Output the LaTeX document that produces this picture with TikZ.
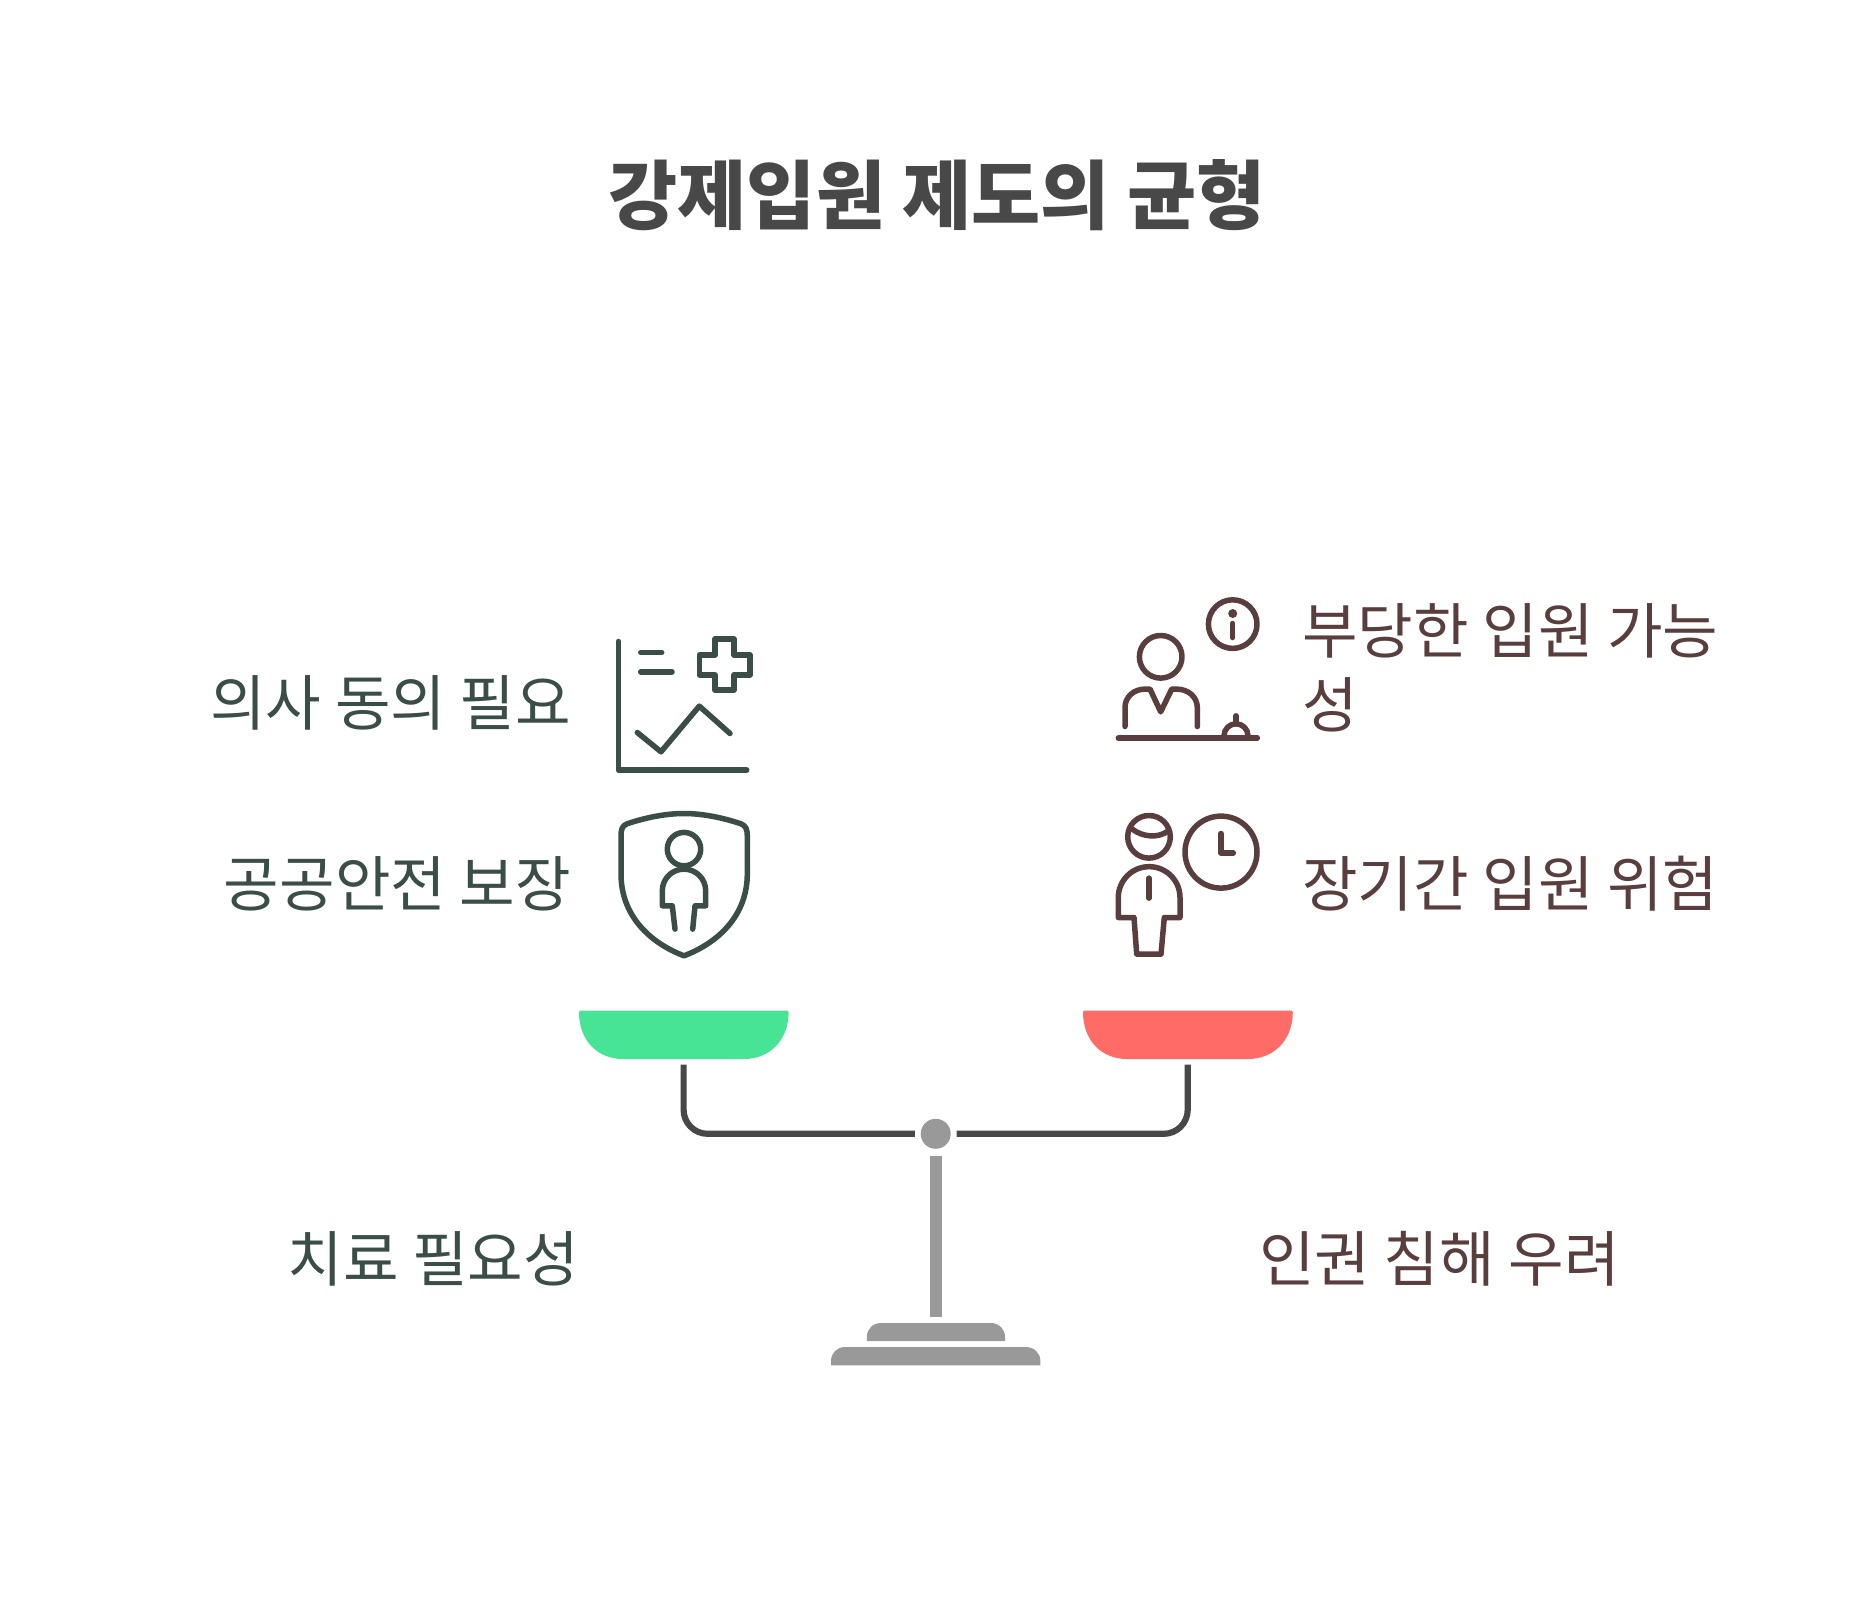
\documentclass[tikz,border=0pt]{standalone}
\usepackage{fontspec}
\usepackage{xcolor}
\setmainfont{Noto Sans CJK KR}
\definecolor{leftink}{HTML}{3A4D46}
\definecolor{rightink}{HTML}{5A3D3D}
\definecolor{titleink}{HTML}{484848}
\definecolor{standgray}{HTML}{999999}
\definecolor{leftpan}{HTML}{47E496}
\definecolor{rightpan}{HTML}{FF6B66}

\begin{document}
\begin{tikzpicture}[x=1pt,y=-1pt,
  lefticon/.style={draw=leftink,line width=5.5pt,line cap=round,line join=round},
  righticon/.style={draw=rightink,line width=5.5pt,line cap=round,line join=round},
  lefttext/.style={text=leftink,font=\fontsize{60.4}{74}\selectfont,anchor=east,inner sep=0pt},
  righttext/.style={text=rightink,font=\fontsize{60.4}{74}\selectfont,anchor=west,inner sep=0pt,align=left},
  beam/.style={draw=titleink,line width=6.2pt}]
\useasboundingbox (0,0) rectangle (1872,1615);

\node(title) at(937,195) [text=titleink,font=\fontsize{75.2}{80}\selectfont\bfseries,inner sep=0pt]{강제입원 제도의 균형};

\node(doctor) at(571,703) [lefttext]{의사 동의 필요};
\node(safety) at(571,883.5) [lefttext]{공공안전 보장};
\node(treat) at(579,1258.5) [lefttext]{치료 필요성};
\node(unjust) at(1302,667.5) [righttext]{부당한 입원 가능\\성};
\node(longstay) at(1302,883.5) [righttext]{장기간 입원 위험};
\node(rights) at(1259,1258.5) [righttext]{인권 침해 우려};

\begin{scope}[yshift=-0.8pt]
% chart icon
\draw[lefticon] (618.3,640.7)--(618.3,769.3)--(746.7,769.3);
\draw[lefticon] (640.7,651.7)--(661.7,651.7);
\draw[lefticon] (640.7,671)--(672,671);
\draw[lefticon] (715,638.3)--(734,638.3)--(734,654)--(750,654)--(750,674)--(734,674)--(734,689.3)--(715,689.3)--(715,674)--(699.3,674)--(699.3,654)--(715,654)--cycle;
\draw[lefticon] (637.3,731.7)--(661,751)--(699.3,705.3)--(730,732.7);

% shield icon
\draw[lefticon] (684,812.7) .. controls (665,812.7) and (645,817) .. (627,823)
  .. controls (622,825) and (621,829) .. (621,835) -- (621,873)
  .. controls (621,915) and (650,942) .. (684,955)
  .. controls (718,942) and (747.3,915) .. (747.3,873) -- (747.3,835)
  .. controls (747.3,829) and (746,825) .. (741,823)
  .. controls (723,817) and (703,812.7) .. (684,812.7) -- cycle;
\draw[lefticon] (684,848.3) circle (16.7pt);
\draw[lefticon] (675,928.3)--(672.3,905)--(662.3,905)--(662.3,890) arc[start angle=180,end angle=0,radius=21.7pt]--(705.7,905)--(695,905)--(692.7,928.3);

% desk icon
\draw[righticon] (1232.7,623.3) circle (24.3pt);
\fill[rightink] (1232.7,612.7) circle (4.5pt);
\draw[righticon] (1232.7,622.7)--(1232.7,636.7);
\draw[righticon] (1160.7,656) circle (21.3pt);
\draw[righticon] (1125,725.7)--(1125,706.7) .. controls (1125,696) and (1134,688.3) .. (1145,688.3)
  --(1150,688.3)--(1160.7,711)--(1171.7,688.3)--(1176.7,688.3)
  .. controls (1188,688.3) and (1197.3,696) .. (1197.3,706.7)--(1197.3,725.7);
\draw[righticon] (1118.3,737.3)--(1257.3,737.3);
\draw[righticon] (1224,735) arc[start angle=180,end angle=0,radius=12pt];
\draw[righticon] (1236,715)--(1236,721.7);

% clock icon
\draw[righticon] (1149,836) circle (21.3pt);
\draw[righticon] (1132.3,828.3) .. controls (1142,836) and (1158,838) .. (1168.3,830);
\draw[righticon] (1221,851.3) circle (36pt);
\draw[righticon] (1221,832.7)--(1221,852.3)--(1233.3,852.3);
\draw[righticon] (1118.3,916.7)--(1118.3,896.7) arc[start angle=180,end angle=0,radius=30.85pt]--(1180,916.7)--(1164.3,916.7)--(1161,953.3)--(1136.7,953.3)--(1134,916.7)--cycle;
\draw[righticon] (1149,877.3)--(1149,897.3);
\end{scope}

% pans
\fill[leftpan] (579,1012) .. controls (579,1041) and (598,1059) .. (623,1059)--(744,1059)
  .. controls (769,1059) and (788.6,1041) .. (788.6,1012) .. controls (788.6,1011) and (788.3,1010.5) .. (787.3,1010.5)
  --(580.3,1010.5) .. controls (579.3,1010.5) and (579,1011) .. (579,1012)--cycle;
\fill[rightpan] (1083,1012) .. controls (1083,1041) and (1102,1059) .. (1127,1059)--(1248,1059)
  .. controls (1273,1059) and (1292.8,1041) .. (1292.8,1012) .. controls (1292.8,1011) and (1292.5,1010.5) .. (1291.5,1010.5)
  --(1084.3,1010.5) .. controls (1083.3,1010.5) and (1083,1011) .. (1083,1012)--cycle;

% beam and stand
\node(pivot) at(935.7,1133.8) [circle,fill=standgray,minimum size=30pt,inner sep=0pt]{};
\coordinate(lefthang) at(683.6,1064.5);
\coordinate(leftend) at(914.8,1133.8);
\coordinate(righthang) at(1187.7,1064.5);
\coordinate(rightend) at(956.5,1133.8);
\draw[beam,rounded corners=24pt] (lefthang)|-(leftend);
\draw[beam,rounded corners=24pt] (righthang)|-(rightend);
\fill[standgray] (930,1155.5) rectangle (942,1317);
\fill[standgray] (866.8,1341)--(866.8,1337) .. controls (866.8,1329) and (873,1323) .. (881,1323)
  --(991,1323) .. controls (999,1323) and (1005,1329) .. (1005,1337)--(1005,1341)--cycle;
\fill[standgray] (831,1365.3)--(831,1361) .. controls (831,1353) and (837,1347) .. (845,1347)
  --(1026,1347) .. controls (1034,1347) and (1040.4,1353) .. (1040.4,1361)--(1040.4,1365.3)--cycle;

\end{tikzpicture}
\end{document}
